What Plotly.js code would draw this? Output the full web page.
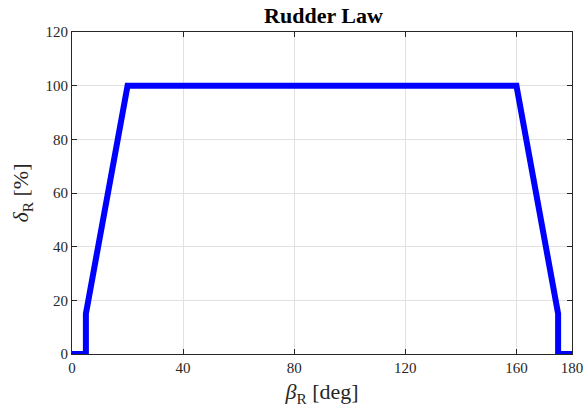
<!DOCTYPE html>
<html>
<head>
<meta charset="utf-8">
<script src="https://cdn.plot.ly/plotly-3.0.1.min.js"></script>
<style>html,body{margin:0;padding:0;background:#fff;}#chart{width:585px;height:417px;}</style>
</head>
<body>
<div id="chart"></div>
<script>
// Rudder deflection schedule vs. relative angle
const betaR = [0, 5, 5, 20, 160, 175, 175, 180];
const deltaR = [0, 0, 15, 100, 100, 15, 0, 0];
const xTicks = [0, 40, 80, 120, 160, 180];
const yTicks = [0, 20, 40, 60, 80, 100, 120];

const serif = 'Liberation Serif';
const axisCol = '#262626';

function axis(range, ticks, titleText, standoff) {
  return {
    range: range, tickmode: 'array', tickvals: ticks, ticktext: ticks.map(String),
    showline: true, mirror: 'ticks', linecolor: axisCol, linewidth: 1,
    ticks: 'inside', ticklen: 5, tickcolor: axisCol,
    showgrid: true, gridcolor: '#e1e1e1', gridwidth: 1,
    zeroline: false,
    tickfont: {family: serif, size: 15, color: axisCol},
    title: {text: titleText, font: {family: serif, size: 22, color: axisCol}, standoff: standoff}
  };
}

const trace = {
  x: betaR, y: deltaR, type: 'scatter', mode: 'lines',
  line: {color: '#0000ff', width: 6}, hoverinfo: 'skip'
};

const layout = {
  width: 585, height: 417,
  margin: {l: 72, r: 13, t: 32, b: 63},
  font: {family: serif, size: 15, color: axisCol},
  paper_bgcolor: '#fff', plot_bgcolor: '#fff',
  showlegend: false,
  title: {text: '<b>Rudder Law</b>', font: {family: serif, size: 22, color: '#000'},
          x: 0.553, xanchor: 'center', y: 0.982, yanchor: 'top'},
  xaxis: axis([0, 180], xTicks, '<i>β</i><sub>R</sub> [deg]', 8),
  yaxis: axis([0, 120], yTicks, '<i>δ</i><sub>R</sub> [%]', 10)
};

Plotly.newPlot('chart', [trace], layout, {displayModeBar: false, staticPlot: true});
</script>
</body>
</html>
